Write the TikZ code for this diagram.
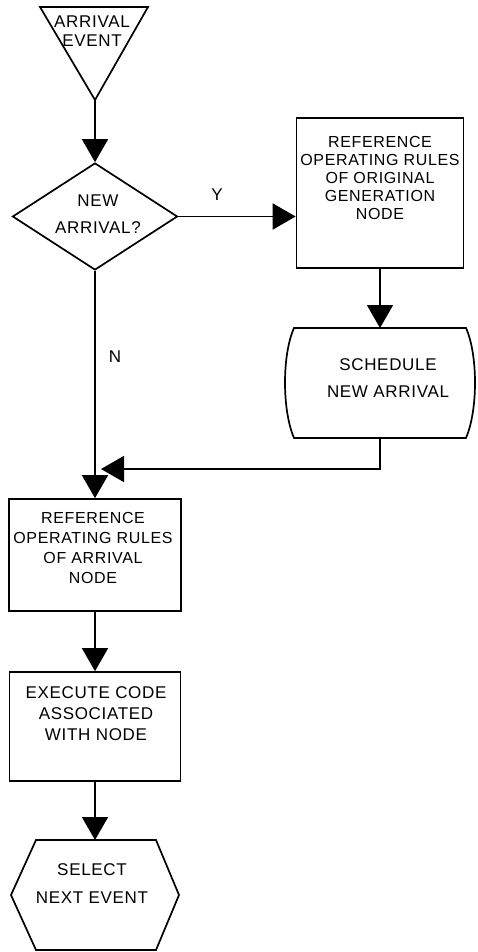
\documentclass[tikz,border=0pt]{standalone}
\usepackage{fontspec}
\setmainfont{Liberation Sans}[LetterSpace=4]
\usetikzlibrary{arrows.meta,shapes.geometric}
\begin{document}
\begin{tikzpicture}[x=1pt,y=-1pt, line width=1.7pt, line join=miter,
  flow/.style={-{Triangle[width=26pt,length=23pt]}},
  lbl/.style={font=\fontsize{17}{19}\selectfont, align=center, inner sep=0pt},
  boxshape/.style={draw, rectangle, inner sep=0pt},
  frame/.style={inner sep=0pt, outer sep=0pt}]
\useasboundingbox (0,0) rectangle (477,952);

% start triangle
\coordinate (tA) at (40,7);
\coordinate (tB) at (148,7);
\coordinate (tC) at (95,100);
\draw (tA) -- (tB) -- (tC) -- cycle;
\node[lbl] (tT) at (92,31) {ARRIVAL\\EVENT};

% decision
\node[draw, diamond, minimum width=165pt, minimum height=107pt, inner sep=0pt] (dec) at (95,216.5) {};
\node[lbl] (decT) at (98,214) {NEW\\[8pt]ARRIVAL?};

% box 1
\node[boxshape, minimum width=167pt, minimum height=150pt] (b1) at (380,193) {};
\node[lbl, font=\fontsize{16}{18}\selectfont] (b1T) at (380,178) {REFERENCE\\OPERATING RULES\\OF ORIGINAL\\GENERATION\\NODE};

% schedule (barrel)
\node[frame, minimum width=172pt, minimum height=110pt] (sch) at (380,383) {};
\draw (sch.north west) .. controls ++(-12,27) and ++(-12,-28) .. (sch.south west)
  -- (sch.south east) .. controls ++(12,-28) and ++(12,27) .. (sch.north east) -- cycle;
\node[lbl] (schT) at (388,378) {SCHEDULE\\[8pt]NEW ARRIVAL};

% box 2
\node[boxshape, minimum width=172pt, minimum height=112pt] (b2) at (95,555) {};
\node[lbl, font=\fontsize{16}{20}\selectfont] (b2T) at (93,548) {REFERENCE\\OPERATING RULES\\OF ARRIVAL\\NODE};

% box 3
\node[boxshape, minimum width=171pt, minimum height=109pt] (b3) at (95,726.5) {};
\node[lbl, font=\fontsize{17}{21}\selectfont] (b3T) at (96,714) {EXECUTE CODE\\ASSOCIATED\\WITH NODE};

% hexagon
\node[frame, minimum width=168pt, minimum height=110pt] (hex) at (95,895) {};
\draw (hex.west) -- ([xshift=25pt]hex.north west) -- ([xshift=-23pt]hex.north east)
  -- (hex.east) -- ([xshift=-23pt]hex.south east) -- ([xshift=25pt]hex.south west) -- cycle;
\node[lbl] (hexT) at (92,884) {SELECT\\[9pt]NEXT EVENT};

% labels
\node[lbl] (Y) at (217,195) {Y};
\node[lbl] (N) at (115,357) {N};

% connectors
\coordinate (c1) at (380,469);
\coordinate (c2) at (101,469);
\draw[flow] (tC) -- (dec.north);
\draw[flow] (dec.east) -- (dec.east -| b1.west);
\draw[flow] (b1.south) -- (sch.north);
\draw[flow] (sch.south) -- (c1) -- (c2);
\draw[flow] (dec.south) -- (b2.north);
\draw[flow] (b2.south) -- (b3.north);
\draw[flow] (b3.south) -- (hex.north);
\end{tikzpicture}
\end{document}
